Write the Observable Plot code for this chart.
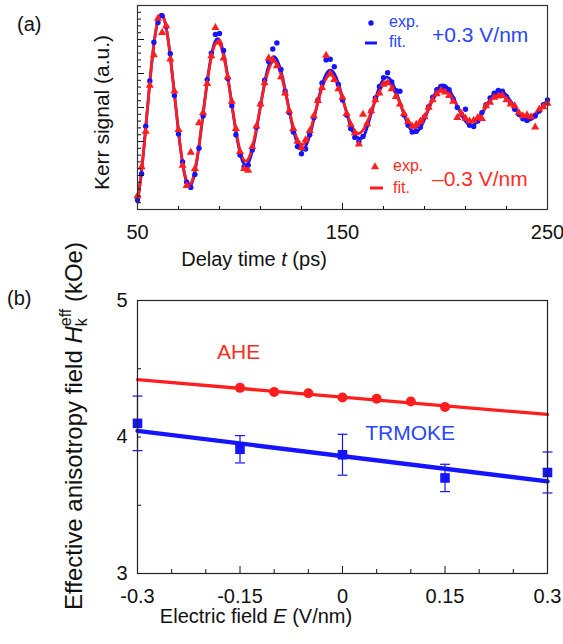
<!DOCTYPE html>
<html><head><meta charset="utf-8">
<script src="https://cdn.jsdelivr.net/npm/d3@7"></script>
<script src="https://cdn.jsdelivr.net/npm/@observablehq/plot@0.6"></script>
<style>
html,body{margin:0;padding:0;background:#fff;}
#fig{position:relative;width:563px;height:644px;}
#fig svg{position:absolute;left:0;overflow:visible;}
</style></head><body><div id="fig"></div>
<script>
// ---------- Panel (a): Kerr signal vs delay time ----------
const delayTime = [50,52,54,56,58,60,62,64,66,68,70,72,74,76,78,80,82,84,86,88,90,92,94,96,98,100,102,104,106,108,110,112,114,116,118,120,122,124,126,128,130,132,134,136,138,140,142,144,146,148,150,152,154,156,158,160,162,164,166,168,170,172,174,176,178,180,182,184,186,188,190,192,194,196,198,200,202,204,206,208,210,212,214,216,218,220,222,224,226,228,230,232,234,236,238,240,242,244,246,248,250];
// +0.3 V/nm (blue)
const kerrExpPos = [-2.72,-1.95,-0.55,0.78,1.92,2.50,2.70,2.38,1.58,0.35,
 -0.78,-1.60,-2.20,-2.35,-1.97,-1.20,-0.25,0.82,1.60,2.15,
 2.18,1.68,0.85,0.05,-0.80,-1.40,-1.74,-1.70,-1.25,-0.58,
 0.10,0.80,1.35,1.72,1.90,1.12,0.48,-0.15,-0.72,-1.15,
 -1.36,-1.22,-0.80,-0.30,0.22,0.72,1.40,1.42,1.20,0.68,
 0.22,-0.22,-0.62,-0.88,-1.00,-0.85,-0.50,-0.10,0.28,0.62,
 0.88,1.02,0.75,0.50,0.48,-0.22,-0.52,-0.72,-0.70,-0.58,
 -0.28,0.02,0.30,0.52,0.62,0.60,0.52,0.25,0.00,-0.20,
 -0.05,-0.52,-0.56,-0.40,-0.15,0.08,0.28,0.42,0.50,0.48,
 0.32,0.12,-0.05,-0.20,-0.33,-0.38,-0.30,-0.25,-0.10,0.08,
 0.22];
const kerrFitPos = [-2.78,-1.87,-0.61,0.73,1.86,2.56,2.73,2.35,1.51,0.41,
 -0.72,-1.65,-2.21,-2.29,-1.90,-1.15,-0.19,0.77,1.53,1.96,
 1.98,1.60,0.93,0.10,-0.71,-1.34,-1.66,-1.64,-1.28,-0.67,
 0.04,0.73,1.23,1.48,1.41,1.07,0.54,-0.08,-0.65,-1.06,
 -1.23,-1.15,-0.83,-0.36,0.17,0.65,0.98,1.10,1.00,0.71,
 0.29,-0.16,-0.56,-0.82,-0.90,-0.88,-0.59,-0.18,0.24,0.60,
 0.83,0.89,0.77,0.49,0.15,-0.21,-0.52,-0.70,-0.72,-0.60,
 -0.35,-0.05,0.26,0.50,0.64,0.65,0.53,0.31,0.04,-0.21,
 -0.41,-0.52,-0.51,-0.40,-0.20,0.03,0.24,0.41,0.48,0.47,
 0.36,0.19,-0.01,-0.19,-0.32,-0.38,-0.35,-0.26,-0.10,0.06,
 0.22];
// -0.3 V/nm (red)
const kerrExpNeg = [-2.60,-1.75,-0.70,0.65,1.55,2.62,2.20,2.40,1.42,0.48,
 -0.65,-1.70,-2.30,-1.32,-1.80,-0.45,-0.15,0.70,1.52,2.35,
 1.92,1.45,0.90,0.18,-0.62,-1.30,-1.80,-1.85,-1.15,-0.55,
 0.10,0.72,1.45,1.40,1.22,0.90,0.42,-0.10,-0.62,-1.00,
 -1.18,-0.95,-0.68,-0.25,0.20,0.58,1.53,1.00,0.82,0.55,
 0.30,-0.18,-0.50,-0.75,-1.08,-0.20,-0.48,-0.10,0.22,0.42,
 0.68,0.72,0.55,0.32,0.10,-0.18,-0.42,-0.55,-0.50,-0.40,
 -0.28,0.00,0.22,0.40,0.50,0.45,0.35,0.18,-0.30,-0.18,
 -0.32,-0.40,-0.38,-0.30,-0.33,0.05,0.15,0.30,0.33,0.35,
 0.22,0.10,0.05,-0.15,-0.25,-0.22,-0.28,-0.58,-0.05,0.02,
 0.12];
const kerrFitNeg = [-2.78,-1.87,-0.61,0.73,1.86,2.56,2.73,2.34,1.50,0.41,
 -0.71,-1.62,-2.16,-2.24,-1.85,-1.11,-0.18,0.74,1.47,1.87,
 1.89,1.52,0.88,0.10,-0.67,-1.25,-1.55,-1.52,-1.18,-0.62,
 0.04,0.67,1.12,1.35,1.28,0.97,0.49,-0.07,-0.58,-0.94,
 -1.09,-1.02,-0.73,-0.31,0.15,0.57,0.85,0.96,0.87,0.61,
 0.25,-0.13,-0.47,-0.69,-0.76,-0.67,-0.44,-0.13,0.19,0.46,
 0.70,0.75,0.65,0.41,0.13,-0.17,-0.43,-0.57,-0.59,-0.48,
 -0.28,-0.04,0.21,0.41,0.51,0.52,0.42,0.24,0.04,-0.16,
 -0.32,-0.41,-0.39,-0.31,-0.15,0.03,0.19,0.31,0.38,0.37,
 0.28,0.14,0.00,-0.14,-0.24,-0.27,-0.26,-0.18,-0.07,0.05,
 0.17];
const delayTickLabels = [50,150,250];
const delayMinorTicks = [70,90,110,130,170,190,210,230];
const delayMajorTicks = [150];
const kerrMinorTicks = [-2.8,-2.6,-2.4,-2.2,-1.8,-1.6,-1.4,-1.2,-0.8,-0.6,-0.4,-0.2,0.2,0.4,0.6,0.8,1.2,1.4,1.6,1.8,2.2,2.4,2.6,2.8];
const kerrMajorTicks = [-2,-1,0,1,2];

// ---------- Panel (b): H_k^eff vs electric field ----------
const trmokeField = [-0.3,-0.15,0,0.15,0.3];
const trmokeHk = [4.10,3.91,3.87,3.70,3.74];
const trmokeErr = [0.20,0.10,0.15,0.10,0.15];
const aheField = [-0.15,-0.1,-0.05,0,0.05,0.1,0.15];
const aheHk = [4.36,4.33,4.32,4.29,4.28,4.26,4.22];
const fitField = [-0.3,0.3];
const aheFitHk = [4.42,4.165];
const trmokeFitHk = [4.045,3.675];
const seriesNames = ["AHE","TRMOKE"];
const labelField = [-0.152,0.099];
const labelHk = [4.62,4.026];
const fieldTickLabels = [-0.3,-0.15,0,0.15,0.3];
const fieldMinorTicks = [-0.25,-0.2,-0.1,-0.05,0.05,0.1,0.2,0.25];
const fieldMajorTicks = [-0.15,0,0.15];
const hkTickLabels = [3,4,5];
const hkMinorTicks = [3.5,4,4.5];

// ---------- styles ----------
const FONT = '"Liberation Sans", Arial, Helvetica, sans-serif';
const BLUE = "#1414ff", RED = "#ff1e1e";
const BLUE_TXT = "#2846ff", RED_TXT = "#ff2d1e";
const INK = "#111";

const rowsOf = (xs, ys) => xs.map((x, i) => ({x, y: ys[i]}));
const expPos = rowsOf(delayTime, kerrExpPos), fitPos = rowsOf(delayTime, kerrFitPos);
const expNeg = rowsOf(delayTime, kerrExpNeg), fitNeg = rowsOf(delayTime, kerrFitNeg);

const fig = document.getElementById("fig");

const plotA = Plot.plot({
  width: 563, height: 290,
  marginLeft: 137, marginRight: 16, marginTop: 5, marginBottom: 81,
  style: {fontFamily: FONT, fontSize: "20px", color: INK, overflow: "visible"},
  x: {domain: [50, 250], label: null},
  y: {domain: [-3, 3], label: null},
  marks: [
    Plot.line(fitPos, {x: "x", y: "y", stroke: BLUE, strokeWidth: 2.8, curve: "natural"}),
    Plot.line(fitNeg, {x: "x", y: "y", stroke: RED, strokeWidth: 2.8, curve: "natural"}),
    Plot.dot(expPos, {x: "x", y: "y", r: 2.7, fill: BLUE, symbol: "circle"}),
    Plot.dot(expNeg, {x: "x", y: "y", r: 3.0, fill: RED, symbol: "triangle"}),
    Plot.axisX(delayMinorTicks, {tickSize: -3, fill: "none", stroke: INK}),
    Plot.axisX(delayMajorTicks, {tickSize: -6, fill: "none", stroke: INK}),
    Plot.axisX(delayTickLabels, {tickSize: 0, tickPadding: 15, fontSize: 20, tickFormat: d => String(d)}),
    Plot.axisY(kerrMinorTicks, {tickSize: -4, fill: "none", stroke: INK}),
    Plot.axisY(kerrMajorTicks, {tickSize: -7, fill: "none", stroke: INK}),
    Plot.frame({stroke: "#333", strokeWidth: 1.2})
  ]
});
plotA.style.top = "0px";
fig.appendChild(plotA);

const trRows = trmokeField.map((x, i) => ({x, y: trmokeHk[i], lo: trmokeHk[i] - trmokeErr[i], hi: trmokeHk[i] + trmokeErr[i]}));
const aheRows = rowsOf(aheField, aheHk);
const aheFitRows = rowsOf(fitField, aheFitHk);
const trFitRows = rowsOf(fitField, trmokeFitHk);
const labelRows = seriesNames.map((s, i) => ({s, x: labelField[i], y: labelHk[i]}));
const capSymbol = {draw(ctx, size) { const w = Math.sqrt(size) / 2; ctx.moveTo(-w, 0); ctx.lineTo(w, 0); }};

const plotB = Plot.plot({
  width: 563, height: 354,
  marginLeft: 137, marginRight: 16, marginTop: 10, marginBottom: 71,
  style: {fontFamily: FONT, fontSize: "20px", color: INK, overflow: "visible"},
  x: {domain: [-0.3, 0.3], label: null},
  y: {domain: [3, 5], label: null},
  marks: [
    Plot.line(aheFitRows, {x: "x", y: "y", stroke: RED, strokeWidth: 3.3}),
    Plot.line(trFitRows, {x: "x", y: "y", stroke: BLUE, strokeWidth: 4.3}),
    Plot.ruleX(trRows, {x: "x", y1: "lo", y2: "hi", stroke: BLUE, strokeWidth: 1.2}),
    Plot.dot(trRows, {x: "x", y: "lo", symbol: capSymbol, r: 5.6, stroke: BLUE, strokeWidth: 1.2, fill: "none"}),
    Plot.dot(trRows, {x: "x", y: "hi", symbol: capSymbol, r: 5.6, stroke: BLUE, strokeWidth: 1.2, fill: "none"}),
    Plot.dot(aheRows, {x: "x", y: "y", r: 5, fill: RED, symbol: "circle"}),
    Plot.dot(trRows, {x: "x", y: "y", r: 5.4, fill: BLUE, symbol: "square"}),
    Plot.text(labelRows, {x: "x", y: "y", text: "s", fill: (d) => d.s === "AHE" ? RED_TXT : BLUE_TXT, fontSize: 21, textAnchor: "middle", lineAnchor: "middle"}),
    Plot.axisX(fieldMinorTicks, {tickSize: -4, fill: "none", stroke: INK}),
    Plot.axisX(fieldMajorTicks, {tickSize: -7, fill: "none", stroke: INK}),
    Plot.axisX(fieldTickLabels, {tickSize: 0, tickPadding: 15, fontSize: 20, tickFormat: d => String(d)}),
    Plot.axisY(hkMinorTicks, {tickSize: -4, fill: "none", stroke: INK}),
    Plot.axisY(hkTickLabels, {tickSize: 0, tickPadding: 10, fontSize: 20, tickFormat: d => String(d)}),
    Plot.frame({stroke: "#222", strokeWidth: 1.2})
  ]
});
plotB.style.top = "290px";
fig.appendChild(plotB);

// ---------- text annotations ----------
function txt(sel, x, y, size, color, s, anchor = "start") {
  return sel.append("text").attr("x", x).attr("y", y).attr("font-size", size)
    .attr("font-family", FONT).attr("fill", color).attr("text-anchor", anchor).text(s);
}
const A = d3.select(plotA);
txt(A, 17, 31, 20, INK, "(a)");
A.append("text").attr("transform", "translate(109,112.5) rotate(-90)").attr("text-anchor", "middle")
  .attr("font-size", 21).attr("font-family", FONT).attr("fill", INK).text("Kerr signal (a.u.)");
const dl = A.append("text").attr("x", 254).attr("y", 266).attr("text-anchor", "middle")
  .attr("font-size", 20).attr("font-family", FONT).attr("fill", INK);
dl.append("tspan").text("Delay time ");
dl.append("tspan").attr("font-style", "italic").text("t");
dl.append("tspan").text(" (ps)");
// legend +0.3 V/nm
A.append("circle").attr("cx", 371).attr("cy", 23).attr("r", 2.7).attr("fill", BLUE);
txt(A, 389, 27, 16, BLUE_TXT, "exp.");
A.append("line").attr("x1", 365).attr("x2", 377).attr("y1", 43).attr("y2", 43).attr("stroke", BLUE).attr("stroke-width", 3);
txt(A, 389, 47, 16, BLUE_TXT, "fit.");
txt(A, 432, 42, 21, BLUE_TXT, "+0.3 V/nm");
// legend -0.3 V/nm
A.append("path").attr("d", d3.symbol(d3.symbolTriangle, 28)()).attr("transform", "translate(375,167)").attr("fill", RED);
txt(A, 393, 171, 16, RED_TXT, "exp.");
A.append("line").attr("x1", 370).attr("x2", 383).attr("y1", 188).attr("y2", 188).attr("stroke", RED).attr("stroke-width", 3);
txt(A, 393, 193, 16, RED_TXT, "fit.");
txt(A, 432, 186, 21, RED_TXT, "\u20130.3 V/nm");

const B = d3.select(plotB);
txt(B, 7, 15, 20, INK, "(b)");
const yl = B.append("text").attr("transform", "translate(82,136) rotate(-90)").attr("text-anchor", "middle")
  .attr("font-size", 24).attr("font-family", FONT).attr("fill", INK);
yl.append("tspan").text("Effective anisotropy field ");
yl.append("tspan").attr("font-style", "italic").text("H");
yl.append("tspan").attr("font-size", 16).attr("dy", 5).text("k");
yl.append("tspan").attr("font-size", 16).attr("dx", -8).attr("dy", -16).text("eff");
yl.append("tspan").attr("dy", 11).text(" (kOe)");
const xl = B.append("text").attr("x", 256).attr("y", 333).attr("text-anchor", "middle")
  .attr("font-size", 20).attr("font-family", FONT).attr("fill", INK);
xl.append("tspan").text("Electric field ");
xl.append("tspan").attr("font-style", "italic").text("E");
xl.append("tspan").text(" (V/nm)");
</script></body></html>
